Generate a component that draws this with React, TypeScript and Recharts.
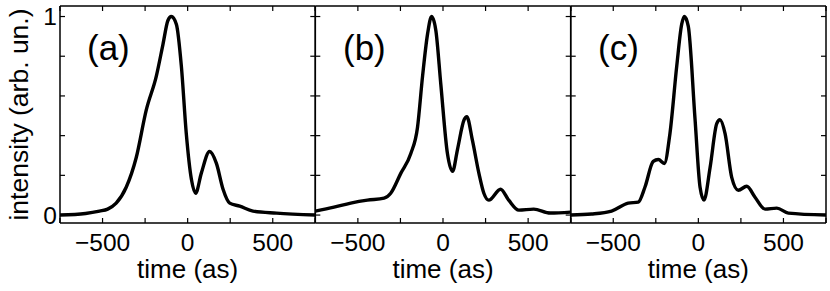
import React from 'react';
import { LineChart, Line, XAxis, YAxis } from 'recharts';

const timeA = [-750, -600, -518, -470, -420, -361, -302, -243, -184, -145, -116, -96, -66, -37, -8, 22, 47, 80, 129, 169, 208, 247, 306, 384, 522, 750];
const intensityA = [0, 0.008, 0.02, 0.03, 0.06, 0.14, 0.29, 0.53, 0.7, 0.86, 0.98, 1.0, 0.96, 0.75, 0.41, 0.18, 0.11, 0.21, 0.32, 0.26, 0.13, 0.06, 0.045, 0.02, 0.01, 0];

const timeB = [-750, -640, -542, -444, -346, -307, -248, -189, -150, -120, -91, -67, -42, -13, 26, 56, 85, 124, 140, 172, 211, 240, 269, 338, 386, 445, 533, 630, 750];
const intensityB = [0.02, 0.04, 0.06, 0.075, 0.085, 0.11, 0.21, 0.31, 0.44, 0.7, 0.91, 1.0, 0.93, 0.66, 0.31, 0.22, 0.33, 0.48, 0.495, 0.38, 0.21, 0.11, 0.075, 0.13, 0.075, 0.025, 0.03, 0.01, 0.015];

const timeC = [-750, -627, -510, -412, -353, -314, -265, -235, -200, -167, -127, -98, -82, -59, -20, 10, 33, 69, 108, 127, 157, 196, 235, 284, 333, 392, 461, 529, 750];
const intensityC = [0, 0.005, 0.02, 0.06, 0.065, 0.14, 0.27, 0.28, 0.26, 0.41, 0.75, 0.96, 1.0, 0.95, 0.49, 0.14, 0.075, 0.24, 0.46, 0.48, 0.41, 0.19, 0.125, 0.145, 0.09, 0.03, 0.035, 0.01, 0];

const xTicks = [-750, -500, -250, 0, 250, 500, 750];
const xLabelled = [-500, 0, 500];
const yTicks = [0, 0.2, 0.4, 0.6, 0.8, 1];
const yLabelled = [0, 1];
const panelNames = ['(a)', '(b)', '(c)'];

const W = 830;
const H = 291;
const TOP = 6;
const BOTTOM = 223;
const AX = 2;
const panelEdges = [60, 315.3, 570.7, 826];

const FONT = '"Liberation Sans", Arial, Helvetica, sans-serif';

const fmtX = (v: number) => (xLabelled.includes(v) ? (v < 0 ? '\u2212' + Math.abs(v) : String(v)) : '');

function Panel({ times, values, idx }: { times: number[]; values: number[]; idx: number }) {
  const data = times.map((t, i) => ({ t, v: values[i] }));
  const left = panelEdges[idx];
  const right = panelEdges[idx + 1];
  const tickStyle = { fill: '#000', fontSize: 24.5, fontFamily: FONT };
  const axisLine = { stroke: '#000', strokeWidth: 1.5 };
  const tickLine = { stroke: '#000', strokeWidth: 1.2 };
  return (
    <div style={{ position: 'absolute', left: 0, top: 0 }}>
      <LineChart
        width={W}
        height={H}
        data={data}
        margin={{ left: left - AX, right: W - right - AX, top: TOP - AX, bottom: H - BOTTOM - AX }}
      >
        <XAxis
          xAxisId="b"
          dataKey="t"
          type="number"
          domain={[-750, 750]}
          allowDataOverflow
          ticks={xTicks}
          tickFormatter={fmtX}
          orientation="bottom"
          height={AX}
          tickSize={-5}
          tickMargin={16}
          axisLine={axisLine}
          tickLine={tickLine}
          tick={tickStyle}
          interval={0}
        />
        <XAxis
          xAxisId="t"
          dataKey="t"
          type="number"
          domain={[-750, 750]}
          allowDataOverflow
          ticks={xTicks}
          tickFormatter={() => ''}
          orientation="top"
          height={AX}
          tickSize={-5}
          axisLine={axisLine}
          tickLine={tickLine}
          tick={tickStyle}
          interval={0}
        />
        <YAxis
          yAxisId="l"
          type="number"
          domain={[-0.04, 1.053]}
          allowDataOverflow
          ticks={yTicks}
          tickFormatter={(v: number) => (idx === 0 && yLabelled.includes(v) ? String(v) : '')}
          orientation="left"
          width={AX}
          tickSize={-5}
          tickMargin={8}
          axisLine={axisLine}
          tickLine={tickLine}
          tick={tickStyle}
          interval={0}
        />
        <YAxis
          yAxisId="r"
          type="number"
          domain={[-0.04, 1.053]}
          allowDataOverflow
          ticks={yTicks}
          tickFormatter={() => ''}
          orientation="right"
          width={AX}
          tickSize={-5}
          axisLine={axisLine}
          tickLine={tickLine}
          tick={tickStyle}
          interval={0}
        />
        <Line
          xAxisId="b"
          yAxisId="l"
          dataKey="v"
          type="monotone"
          stroke="#000"
          strokeWidth={3.4}
          dot={false}
          isAnimationActive={false}
        />
      </LineChart>
    </div>
  );
}

export default function App() {
  const centers = [0, 1, 2].map((i) => (panelEdges[i] + panelEdges[i + 1]) / 2);
  const nameX = [87, 343, 598];
  return (
    <div style={{ position: 'absolute', left: 0, top: 0, width: W, height: H, background: '#fff', overflow: 'hidden' }}>
      <Panel times={timeA} values={intensityA} idx={0} />
      <Panel times={timeB} values={intensityB} idx={1} />
      <Panel times={timeC} values={intensityC} idx={2} />
      <svg width={W} height={H} style={{ position: 'absolute', left: 0, top: 0, pointerEvents: 'none' }}>
        <text
          transform="translate(27.5,114.5) rotate(-90)"
          textAnchor="middle"
          fontSize={26.5}
          fontFamily={FONT}
          fill="#000"
        >
          intensity (arb. un.)
        </text>
        {centers.map((c, i) => (
          <text key={'xl' + i} x={c} y={277.5} textAnchor="middle" fontSize={26} fontFamily={FONT} fill="#000">
            time (as)
          </text>
        ))}
        {panelNames.map((n, i) => (
          <text key={'pn' + i} x={nameX[i]} y={59.5} fontSize={35} fontFamily={FONT} fill="#000">
            {n}
          </text>
        ))}
      </svg>
    </div>
  );
}
